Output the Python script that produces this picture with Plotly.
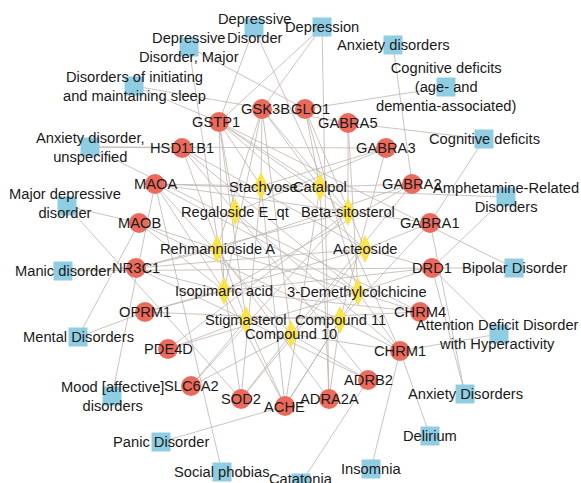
import plotly.graph_objects as go

# ---------------- data ----------------
diseases = [
    "Depressive<br>Disorder", "Depression", "Depressive<br>Disorder, Major", "Anxiety disorders",
    "Disorders of initiating<br>and maintaining sleep",
    "Cognitive deficits<br>(age- and<br>dementia-associated)",
    "Anxiety disorder,<br>unspecified", "Cognitive deficits", "Major depressive<br>disorder",
    "Amphetamine-Related<br>Disorders", "Manic disorder", "Bipolar Disorder", "Mental Disorders",
    "Attention Deficit Disorder<br>with Hyperactivity", "Mood [affective]<br>disorders",
    "Anxiety Disorders", "Panic Disorder", "Delirium", "Social phobias", "Insomnia", "Catatonia",
]
targets = [
    "GSK3B", "GLO1", "GSTP1", "HSD11B1", "GABRA5", "GABRA3", "MAOA", "GABRA2", "MAOB",
    "GABRA1", "NR3C1", "DRD1", "OPRM1", "CHRM4", "PDE4D", "CHRM1", "SLC6A2", "ADRB2",
    "SOD2", "ADRA2A", "ACHE",
]
compounds = [
    "Stachyose", "Catalpol", "Regaloside E_qt", "Beta-sitosterol", "Rehmannioside A",
    "Acteoside", "Isopimaric acid", "3-Demethylcolchicine", "Stigmasterol",
    "Compound 11", "Compound 10",
]

compound_targets = {
    "Stachyose": ["GSK3B", "GSTP1", "GABRA3", "ACHE", "SOD2"],
    "Catalpol": ["GSK3B", "GLO1", "GSTP1", "MAOA", "GABRA2", "ACHE", "ADRA2A"],
    "Regaloside E_qt": ["GSTP1", "HSD11B1", "GABRA3", "CHRM1", "ADRB2"],
    "Beta-sitosterol": ["GSTP1", "GSK3B", "GABRA5", "GABRA1", "NR3C1", "MAOA", "PDE4D", "SLC6A2"],
    "Rehmannioside A": ["GSK3B", "MAOB", "NR3C1", "GABRA2", "CHRM4", "ADRA2A"],
    "Acteoside": ["GLO1", "GSTP1", "HSD11B1", "GABRA1", "DRD1", "NR3C1", "OPRM1", "SOD2"],
    "Isopimaric acid": ["GSK3B", "GSTP1", "MAOA", "MAOB", "NR3C1", "OPRM1", "GABRA2", "DRD1", "CHRM4", "ACHE"],
    "3-Demethylcolchicine": ["GLO1", "GABRA5", "HSD11B1", "MAOA", "DRD1", "CHRM1", "PDE4D", "ACHE"],
    "Stigmasterol": ["GSTP1", "HSD11B1", "NR3C1", "PDE4D", "SLC6A2", "ACHE", "ADRB2", "CHRM4"],
    "Compound 11": ["GABRA3", "GABRA1", "MAOB", "CHRM1", "ACHE", "ADRA2A", "OPRM1"],
    "Compound 10": ["GSK3B", "GABRA2", "MAOA", "SOD2", "ADRB2", "CHRM1", "SLC6A2"],
}
disease_targets = {
    "Depressive<br>Disorder": ["GSTP1", "CHRM1"],
    "Depression": ["GSK3B", "GSTP1", "ADRA2A"],
    "Depressive<br>Disorder, Major": ["GLO1", "SOD2"],
    "Anxiety disorders": ["GABRA2"],
    "Disorders of initiating<br>and maintaining sleep": ["GABRA5", "GSTP1"],
    "Cognitive deficits<br>(age- and<br>dementia-associated)": ["GLO1"],
    "Anxiety disorder,<br>unspecified": ["HSD11B1", "GABRA3", "CHRM4"],
    "Cognitive deficits": ["GABRA5", "GABRA1"],
    "Major depressive<br>disorder": ["MAOB", "SOD2"],
    "Amphetamine-Related<br>Disorders": ["DRD1", "MAOA"],
    "Manic disorder": ["NR3C1", "DRD1"],
    "Bipolar Disorder": ["DRD1", "GSTP1"],
    "Mental Disorders": ["MAOB", "OPRM1"],
    "Attention Deficit Disorder<br>with Hyperactivity": ["CHRM1", "DRD1"],
    "Mood [affective]<br>disorders": ["MAOA"],
    "Anxiety Disorders": ["GABRA1", "DRD1"],
    "Panic Disorder": ["ACHE"],
    "Delirium": ["CHRM1"],
    "Social phobias": ["MAOA"],
    "Insomnia": ["CHRM1"],
    "Catatonia": ["ADRB2"],
}

# ---------------- layout (node positions, pixel space) ----------------
pos = {
    "Depressive<br>Disorder": (254, 28), "Depression": (322, 27),
    "Depressive<br>Disorder, Major": (189, 47), "Anxiety disorders": (393, 45),
    "Disorders of initiating<br>and maintaining sleep": (134, 86),
    "Cognitive deficits<br>(age- and<br>dementia-associated)": (446, 87),
    "Anxiety disorder,<br>unspecified": (90, 147), "Cognitive deficits": (484, 139),
    "Major depressive<br>disorder": (67, 206), "Amphetamine-Related<br>Disorders": (506, 197),
    "Manic disorder": (63, 271), "Bipolar Disorder": (514, 268),
    "Mental Disorders": (78, 337),
    "Attention Deficit Disorder<br>with Hyperactivity": (499, 334),
    "Mood [affective]<br>disorders": (112, 396), "Anxiety Disorders": (465, 394),
    "Panic Disorder": (161, 442), "Delirium": (430, 436), "Social phobias": (222, 472),
    "Insomnia": (371, 469), "Catatonia": (301, 483),
    "GSK3B": (262, 109), "GLO1": (305, 109), "GSTP1": (219, 122), "HSD11B1": (182, 148),
    "GABRA5": (348, 123), "GABRA3": (386, 148), "MAOA": (155, 184), "GABRA2": (412, 184),
    "MAOB": (139, 223), "GABRA1": (430, 223), "NR3C1": (136, 268), "DRD1": (432, 268),
    "OPRM1": (145, 312), "CHRM4": (420, 312), "PDE4D": (168, 349), "CHRM1": (400, 351),
    "SLC6A2": (191, 386), "ADRB2": (368, 380), "SOD2": (241, 399), "ADRA2A": (329, 399),
    "ACHE": (285, 406),
    "Stachyose": (261, 186), "Catalpol": (320, 187), "Regaloside E_qt": (235, 212),
    "Beta-sitosterol": (348, 212), "Rehmannioside A": (217, 249), "Acteoside": (365, 249),
    "Isopimaric acid": (224, 291), "3-Demethylcolchicine": (358, 292),
    "Stigmasterol": (246, 320), "Compound 11": (340, 320), "Compound 10": (291, 334),
}
label_offset = {
    "GSK3B": (3, 0), "GLO1": (5, 0), "GSTP1": (-3, 0), "Major depressive<br>disorder": (-2, -3),
    "Stachyose": (2, 1), "3-Demethylcolchicine": (-1, 0), "ACHE": (-1, 1),
    "Catatonia": (0, -4), "Attention Deficit Disorder<br>with Hyperactivity": (-2, 0),
}

W, H = 581, 483
FONT = dict(family="Arial, Liberation Sans, sans-serif", size=14.7, color="#1a1a1a")

ex, ey = [], []
for src, lst in list(compound_targets.items()) + list(disease_targets.items()):
    for t in lst:
        x0, y0 = pos[src]
        x1, y1 = pos[t]
        ex += [x0, x1, None]
        ey += [y0, y1, None]

fig = go.Figure()
fig.add_trace(go.Scatter(x=ex, y=ey, mode="lines", hoverinfo="skip",
                         line=dict(color="#BFB4AF", width=0.8)))


def add_nodes(names, symbol, size, color):
    fig.add_trace(go.Scatter(
        x=[pos[n][0] for n in names], y=[pos[n][1] for n in names], mode="markers",
        marker=dict(symbol=symbol, size=size, color=color, line=dict(width=0)),
        hovertext=names, hoverinfo="text", cliponaxis=False))


add_nodes(diseases, "square", 19, "#8FCDE3")
add_nodes(targets, "circle", 20, "#EC6A5C")
add_nodes(compounds, "diamond-tall", 20, "#FBE34A")

for n in diseases + targets + compounds:
    dx, dy = label_offset.get(n, (0, 0))
    fig.add_annotation(x=pos[n][0] + dx, y=pos[n][1] + dy, text=n, showarrow=False,
                       xanchor="center", yanchor="middle", font=FONT, align="center")

fig.update_layout(
    width=W, height=H, margin=dict(l=0, r=0, t=0, b=0),
    paper_bgcolor="white", plot_bgcolor="white", showlegend=False,
    xaxis=dict(range=[0, W], visible=False, fixedrange=True),
    yaxis=dict(range=[H, 0], visible=False, fixedrange=True),
)
fig.write_html("out.html", config={"displayModeBar": False},
               post_script="document.body.style.margin='0';document.body.style.overflow='hidden';")
